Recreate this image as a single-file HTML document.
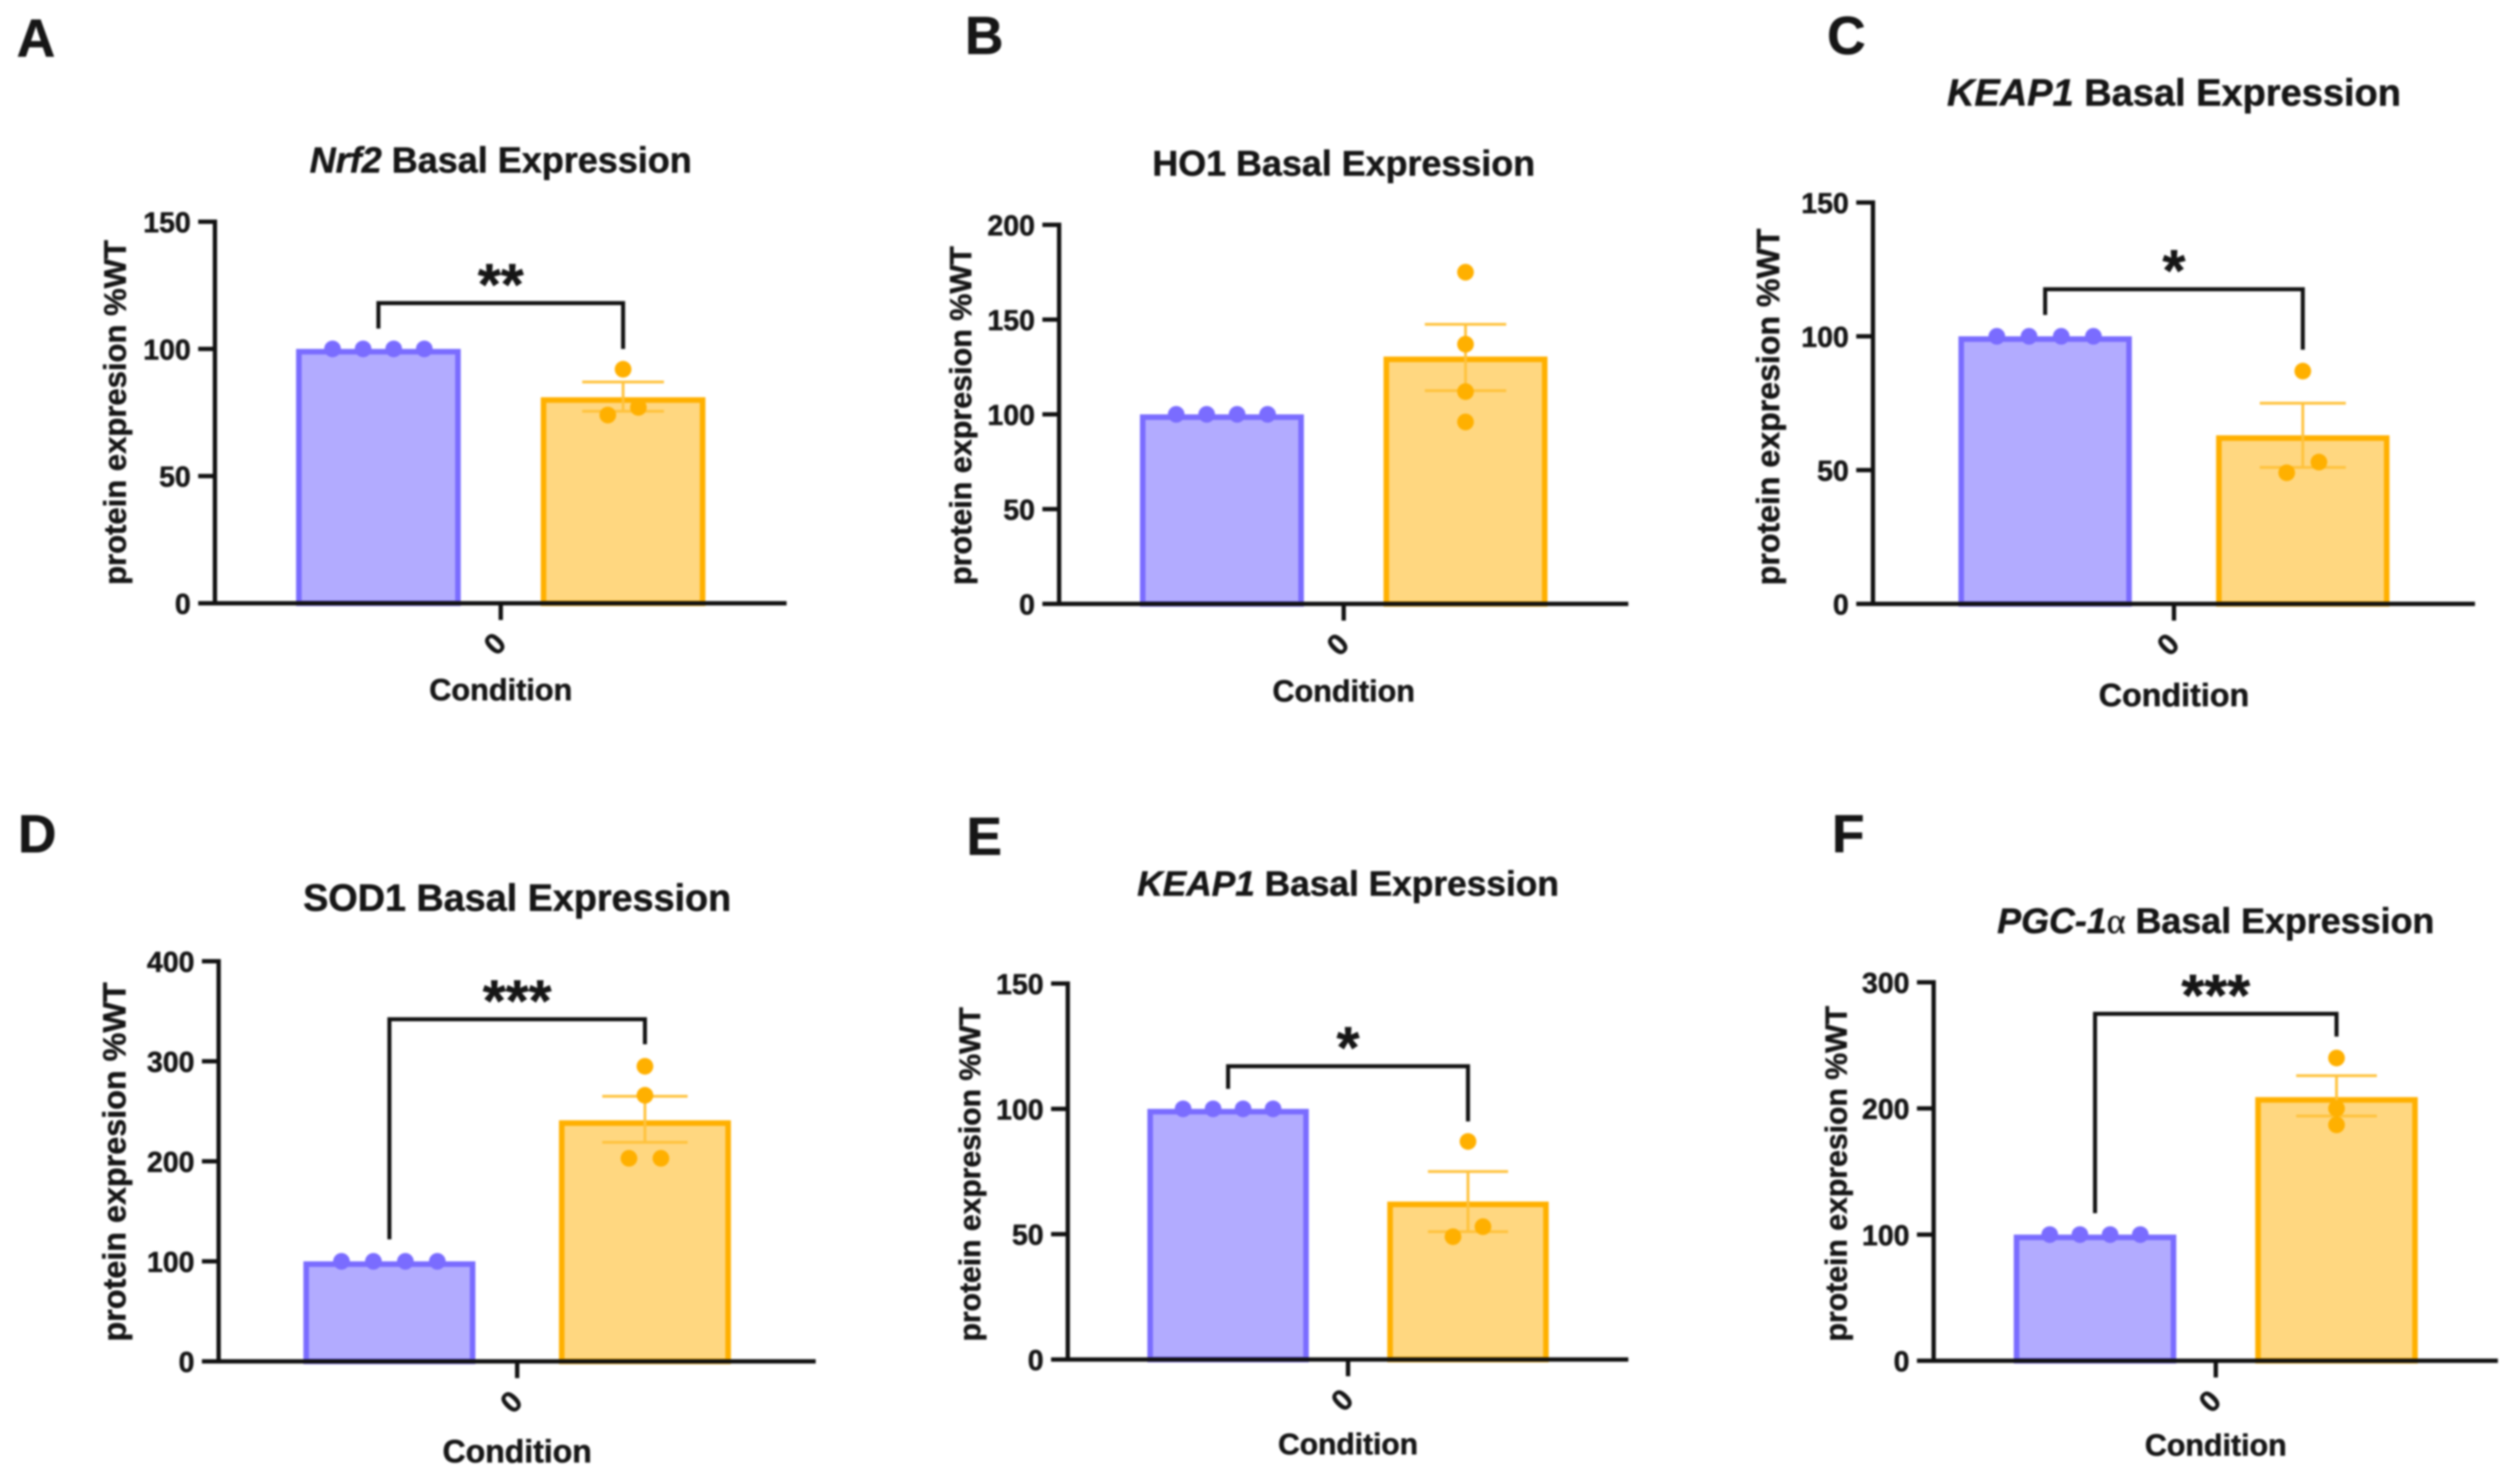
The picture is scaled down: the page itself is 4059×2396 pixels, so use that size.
<!DOCTYPE html>
<html lang="en">
<head>
<meta charset="utf-8">
<title>Basal Expression Bar Charts</title>
<style>
  html, body { margin: 0; padding: 0; background: #fff; }
  body { width: 4059px; height: 2396px; overflow: hidden; }
  svg { display: block; filter: blur(1.5px); font-family: "Liberation Sans", Arial, sans-serif; }
  text { fill: #161616; stroke: #161616; stroke-width: 0.8px; font-weight: 700; }
</style>
</head>
<body>
<svg id="figure" xmlns="http://www.w3.org/2000/svg" width="4059" height="2396" viewBox="0 0 4059 2396"></svg>
<script>
// ---- chart data ----
const panelLetters = ['A', 'B', 'C', 'D', 'E', 'F'];
const titleParts = [
  [['Nrf2', 'i'], [' Basal Expression', 'n']],
  [['HO1 Basal Expression', 'n']],
  [['KEAP1', 'i'], [' Basal Expression', 'n']],
  [['SOD1 Basal Expression', 'n']],
  [['KEAP1', 'i'], [' Basal Expression', 'n']],
  [['PGC-1', 'i'], ['\u03B1', 's'], [' Basal Expression', 'n']]
];
const categories = ['wt', 'mutant'];
const xTickLabels = ['0'];
const xAxisTitle = 'Condition';
const yAxisTitle = 'protein expresion %WT';
const yTicks = [
  [0, 50, 100, 150],
  [0, 50, 100, 150, 200],
  [0, 50, 100, 150],
  [0, 100, 200, 300, 400],
  [0, 50, 100, 150],
  [0, 100, 200, 300]
];
const wtValues = [
  [100, 100, 100, 100],
  [100, 100, 100, 100],
  [100, 100, 100, 100],
  [100, 100, 100, 100],
  [100, 100, 100, 100],
  [100, 100, 100, 100]
];
const mutantValues = [
  [92, 77, 74],
  [175, 137, 112, 96],
  [87, 53, 49],
  [295, 266, 203, 203],
  [87, 53, 49],
  [240, 200, 187]
];
const wtMeans = [100, 100, 100, 100, 100, 100];
const mutantMeans = [81, 130.5, 63, 241, 63, 209];
const mutantErrHigh = [87, 147.5, 75, 265, 75, 226];
const mutantErrLow = [75.5, 112.5, 51, 219, 51, 194];
const sigLabels = ['**', '', '*', '***', '*', '***'];
const bracketLevels = [118, null, 117.6, 342, 117, 275];
const bracketLeftEnds = [108, null, 108, 122, 108, 117];
const bracketRightEnds = [100, null, 95, 317, 95, 257];

// ---- page layout (pixels, separate from the data) ----
const layout = [
  { x0: 347, x1: 1270, top: 358, base: 974, titleY: 258, titleW: 617, ylX: 188, ylY: 666, ylW: 557, condY: 1113, condW: 231, letX: 58, letY: 61 },
  { x0: 1710, x1: 2629, top: 363, base: 975, titleY: 263, titleW: 618, ylX: 1553, ylY: 671, ylW: 547, condY: 1115, condW: 230, letX: 1589, letY: 57 },
  { x0: 3024, x1: 3996, top: 327, base: 975, titleY: 149, titleW: 733, ylX: 2857, ylY: 657, ylW: 576, condY: 1122, condW: 243, letX: 2981, letY: 57 },
  { x0: 353, x1: 1317, top: 1552, base: 2198, titleY: 1449, titleW: 691, ylX: 187, ylY: 1876, ylW: 580, condY: 2343, condW: 241, letX: 60, letY: 1346 },
  { x0: 1724, x1: 2629, top: 1588, base: 2195, titleY: 1426, titleW: 681, ylX: 1568, ylY: 1896, ylW: 540, condY: 2331, condW: 226, letX: 1589, letY: 1350 },
  { x0: 3122, x1: 4033, top: 1586, base: 2197, titleY: 1486, titleW: 706, ylX: 2967, ylY: 1895, ylW: 542, condY: 2333, condW: 229, letX: 2984, letY: 1346 }
];

const INK = '#111';
const COLORS = {
  wt: { fill: '#B2ABFF', stroke: '#7A6CFF', dot: '#7A6CFF' },
  mutant: { fill: '#FFD780', stroke: '#FFB000', dot: '#FFB000' }
};
const SVG_NS = 'http://www.w3.org/2000/svg';
const figure = document.getElementById('figure');

function make(parent, tag, attrs) {
  const node = document.createElementNS(SVG_NS, tag);
  for (const key in attrs) node.setAttribute(key, attrs[key]);
  parent.appendChild(node);
  return node;
}

function fitWidth(node, target) {
  node.setAttribute('font-size', 100);
  const len = node.getComputedTextLength();
  const size = 100 * target / len;
  node.setAttribute('font-size', size);
  return size;
}

// beeswarm: points closer than a dot get spread sideways
function swarm(values, yFn, step) {
  const sorted = values.slice().sort((a, b) => a - b);
  const out = [];
  let cluster = [];
  const flush = () => {
    cluster.forEach((v, i) => out.push({ v: v, off: (i - (cluster.length - 1) / 2) * step }));
    cluster = [];
  };
  sorted.forEach(v => {
    if (cluster.length && Math.abs(yFn(cluster[cluster.length - 1]) - yFn(v)) > 20) flush();
    cluster.push(v);
  });
  flush();
  return out;
}

panelLetters.forEach((letter, p) => {
  const L = layout[p];
  const w = L.x1 - L.x0;
  const mid = (L.x0 + L.x1) / 2;
  const ticks = yTicks[p];
  const yMax = ticks[ticks.length - 1];
  const yScale = v => L.base - (v / yMax) * (L.base - L.top);
  const xScale = i => mid + (i - (categories.length - 1) / 2) * 0.428 * w;
  const barW = 0.288 * w;
  const step = 0.0535 * w;

  const panel = make(figure, 'g', {});
  
  

  // panel letter
  const letterText = make(panel, 'text', { x: L.letX, y: L.letY + 30, 'font-size': 86, 'text-anchor': 'middle' });
  letterText.textContent = letter;
  
  

  // title
  const title = make(panel, 'text', { x: mid, y: L.titleY, 'text-anchor': 'middle' });
  
  
  titleParts[p].forEach(part => {
    const span = make(title, 'tspan', {});
    span.textContent = part[0];
    if (part[1] === 'i') span.setAttribute('font-style', 'italic');
    if (part[1] === 's') {
      span.setAttribute('font-family', '"Liberation Serif", serif');
      span.setAttribute('font-weight', '400');
    }
  });
  const titleSize = fitWidth(title, L.titleW);
  title.setAttribute('y', L.titleY + 0.35 * titleSize);

  // bars
  categories.forEach((cat, i) => {
    const mean = i === 0 ? wtMeans[p] : mutantMeans[p];
    const topY = yScale(mean);
    const cx = xScale(i);
    const bar = make(panel, 'rect', {
      x: cx - barW / 2 + 4.5,
      y: topY + 4.5,
      width: barW - 9,
      height: L.base - topY - 4.5,
      fill: COLORS[cat].fill,
      stroke: COLORS[cat].stroke,
      'stroke-width': 9
    });
    
    
  });

  // mutant error bar
  const ecx = xScale(1);
  const errHi = yScale(mutantErrHigh[p]);
  const errLo = yScale(mutantErrLow[p]);
  const capHalf = 0.0715 * w;
  const errStem = make(panel, 'line', { x1: ecx, x2: ecx, y1: errHi, y2: errLo, stroke: '#FFC23C', 'stroke-width': 4.5 });
  
  
  const capTop = make(panel, 'line', { x1: ecx - capHalf, x2: ecx + capHalf, y1: errHi, y2: errHi, stroke: '#FFC23C', 'stroke-width': 4.5 });
  
  
  const capBottom = make(panel, 'line', { x1: ecx - capHalf, x2: ecx + capHalf, y1: errLo, y2: errLo, stroke: '#FFC23C', 'stroke-width': 4.5 });
  
  

  // data points
  categories.forEach((cat, i) => {
    const values = i === 0 ? wtValues[p] : mutantValues[p];
    swarm(values, yScale, step).forEach(pt => {
      const dot = make(panel, 'circle', { cx: xScale(i) + pt.off, cy: yScale(pt.v), r: 13.5, fill: COLORS[cat].dot });
      
      
    });
  });

  // axes
  const tickLeft = L.x0 - 27;
  const yAxis = make(panel, 'line', { x1: L.x0, x2: L.x0, y1: L.top - 3.5, y2: L.base + 3.5, stroke: INK, 'stroke-width': 7 });
  
  
  const xAxis = make(panel, 'line', { x1: tickLeft, x2: L.x1, y1: L.base, y2: L.base, stroke: INK, 'stroke-width': 7 });
  
  

  ticks.forEach(t => {
    const ty = yScale(t);
    const tickMark = make(panel, 'line', { x1: tickLeft, x2: L.x0, y1: ty, y2: ty, stroke: INK, 'stroke-width': 7 });
    
    
    const tickLabel = make(panel, 'text', { x: tickLeft - 12, y: ty + 17, 'font-size': 46, 'text-anchor': 'end' });
    tickLabel.textContent = t;
    
    
  });

  const xTick = make(panel, 'line', { x1: mid, x2: mid, y1: L.base, y2: L.base + 27, stroke: INK, 'stroke-width': 7 });
  
  
  const xTickLabel = make(panel, 'text', {
    x: 0, y: 17, 'font-size': 48, 'text-anchor': 'middle',
    transform: 'translate(' + (mid - 10) + ' ' + (L.base + 65) + ') rotate(-45)'
  });
  xTickLabel.textContent = xTickLabels[0];
  
  

  // axis titles
  const condition = make(panel, 'text', { x: mid, y: L.condY, 'text-anchor': 'middle' });
  condition.textContent = xAxisTitle;
  
  
  const condSize = fitWidth(condition, L.condW);
  condition.setAttribute('y', L.condY + 0.35 * condSize);

  const yLabel = make(panel, 'text', { x: 0, y: 0, 'text-anchor': 'middle' });
  yLabel.textContent = yAxisTitle;
  
  
  const ylSize = fitWidth(yLabel, L.ylW);
  yLabel.setAttribute('transform', 'translate(' + (L.ylX + 0.3 * ylSize) + ' ' + L.ylY + ') rotate(-90)');

  // significance bracket
  if (sigLabels[p]) {
    const xa = xScale(0);
    const xb = xScale(1);
    const by = yScale(bracketLevels[p]);
    const bracket = make(panel, 'path', {
      d: 'M' + xa + ' ' + yScale(bracketLeftEnds[p]) + ' V' + by + ' H' + xb + ' V' + yScale(bracketRightEnds[p]),
      fill: 'none', stroke: INK, 'stroke-width': 6.5
    });
    
    
    const stars = make(panel, 'text', { x: mid, y: by - 51 + 0.56 * 95, 'font-size': 95, 'text-anchor': 'middle' });
    stars.textContent = sigLabels[p];
    
    
  }
});
</script>
</body>
</html>
